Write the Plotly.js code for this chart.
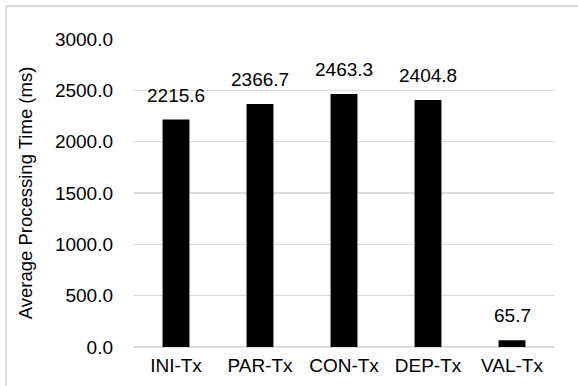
<!DOCTYPE html>
<html>
<head>
<meta charset="utf-8">
<script src="https://cdn.plot.ly/plotly-3.0.1.min.js"></script>
<style>
  html, body { margin: 0; padding: 0; background: #fff; overflow: hidden; }
  #frame { position: absolute; left: 5px; top: 5px; width: 620px; height: 420px; border: 2px solid #d9d9d9; border-radius: 3px; box-sizing: border-box; }
  #chart { position: absolute; left: 0; top: 0; width: 578px; height: 386px; }
</style>
</head>
<body>
<div id="frame"></div>
<div id="chart"></div>
<script>
const categories = ["INI-Tx", "PAR-Tx", "CON-Tx", "DEP-Tx", "VAL-Tx"];
const values = [2215.6, 2366.7, 2463.3, 2404.8, 65.7];
const tickValues = [0, 500, 1000, 1500, 2000, 2500, 3000];
const tickLabels = ["0.0", "500.0", "1000.0", "1500.0", "2000.0", "2500.0", "3000.0"];

const font = "'Liberation Sans', Arial, sans-serif";

const trace = {
  type: "bar",
  x: categories,
  y: values,
  marker: { color: "#000000" },
  hoverinfo: "none"
};

const annotations = categories.map((c, i) => ({
  x: c,
  y: values[i],
  xref: "x",
  yref: "y",
  text: values[i].toFixed(1),
  showarrow: false,
  yanchor: "bottom",
  yshift: 12,
  font: { family: font, size: 19, color: "#000" }
}));

const layout = {
  width: 578,
  height: 386,
  margin: { l: 134, r: 24, t: 39, b: 39 },
  paper_bgcolor: "rgba(0,0,0,0)",
  plot_bgcolor: "rgba(0,0,0,0)",
  bargap: 0.68,
  showlegend: false,
  font: { family: font, size: 19, color: "#000" },
  xaxis: {
    type: "category",
    showline: false,
    showgrid: false,
    zeroline: false,
    ticks: "",
    ticklabelstandoff: 5,
    tickfont: { family: font, size: 19, color: "#000" }
  },
  yaxis: {
    range: [0, 3000],
    tickmode: "array",
    tickvals: tickValues,
    ticktext: tickLabels,
    showgrid: true,
    gridcolor: "#d9d9d9",
    gridwidth: 1.3,
    zeroline: true,
    zerolinecolor: "#d9d9d9",
    zerolinewidth: 1.3,
    showline: false,
    ticks: "",
    ticklabelstandoff: 20,
    tickfont: { family: font, size: 19, color: "#000" },
    title: { text: "Average Processing Time (ms)", standoff: 17, font: { family: font, size: 18.5, color: "#000" } },
    automargin: false
  },
  annotations: annotations
};

Plotly.newPlot("chart", [trace], layout, { displayModeBar: false, staticPlot: true });
</script>
</body>
</html>
